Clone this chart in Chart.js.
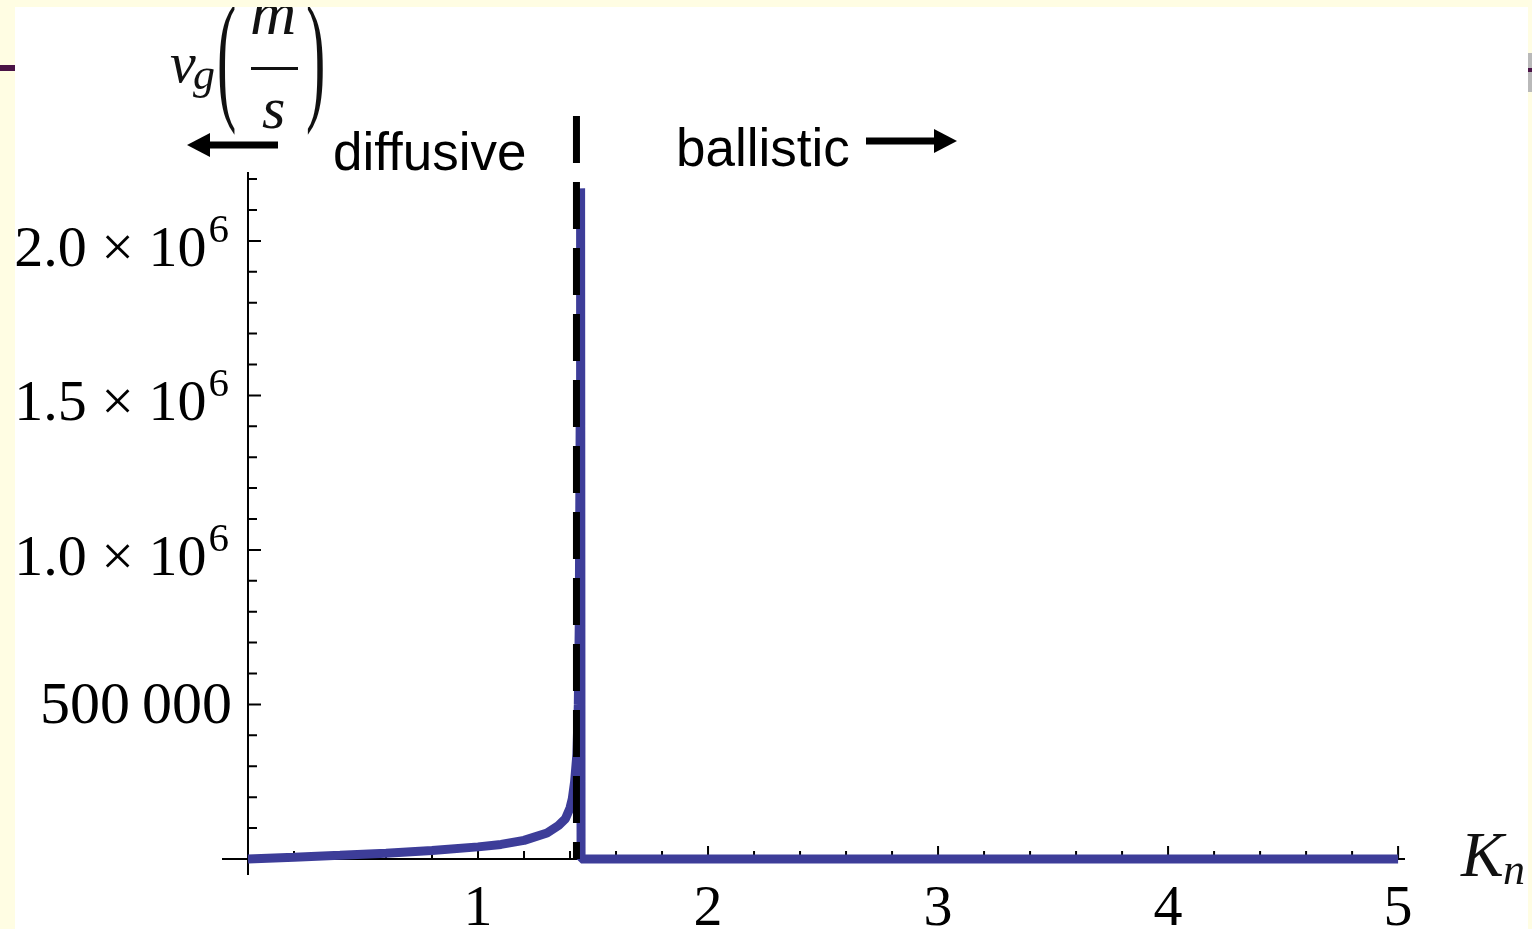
<!DOCTYPE html>
<html>
<head>
<meta charset="utf-8">
<script src="https://cdn.jsdelivr.net/npm/chart.js@4"></script>
<style>
  html, body { margin: 0; padding: 0; background: #fffde3; overflow: hidden; }
  #rule-left { position: absolute; left: 0; top: 65px; width: 15px; height: 6px; background: #4a1446; }
  #tab-right { position: absolute; left: 1528px; top: 53px; width: 4px; height: 39px; background: #b9b9b9; }
  #tab-right div { position: absolute; left: 0; top: 15px; width: 4px; height: 4px; background: #4a1446; }
  #panel { position: absolute; left: 15px; top: 7px; width: 1513px; height: 922px; background: #fff; overflow: hidden; }
  #chart { position: absolute; left: -15px; top: -7px; }
</style>
</head>
<body>
<div id="rule-left"></div>
<div id="tab-right"><div></div></div>
<div id="panel"><canvas id="chart" width="1532" height="929"></canvas></div>
<script>
// group velocity vs Knudsen number
const knValues = [0, 0.2, 0.4, 0.6, 0.8, 1.0, 1.1, 1.2, 1.3, 1.35, 1.38, 1.4, 1.41, 1.42, 1.43, 1.436, 1.44, 1.444, 1.446, 1.448, 5];
const vgValues = [0, 5700, 11600, 18500, 27000, 39000, 47000, 60000, 84000, 108000, 130000, 165000, 195000, 250000, 340000, 500000, 750000, 1400000, 2170000, 0, 0];

// diffusive / ballistic boundary
const knCritical = 1.428;

const xTickValues = [1, 2, 3, 4, 5];
const xTickLabels = ['1', '2', '3', '4', '5'];
const yTickValues = [500000, 1000000, 1500000, 2000000];
const yTickLabels = ['500\u2009000', '1.0 \u00d7 10^6', '1.5 \u00d7 10^6', '2.0 \u00d7 10^6'];
const xMinorStep = 0.2;
const yMinorStep = 100000;

const SERIF = '"Liberation Serif", "Times New Roman", serif';
const SANS = '"Liberation Sans", Arial, sans-serif';

function drawArrow(ctx, x1, x2, y, head) {
  const dir = Math.sign(x2 - x1);
  ctx.fillStyle = '#000';
  ctx.fillRect(Math.min(x1, x2 - dir * head), y - 3.5, Math.abs(x2 - dir * head - x1), 7);
  ctx.beginPath();
  ctx.moveTo(x2, y);
  ctx.lineTo(x2 - dir * head, y - 12);
  ctx.lineTo(x2 - dir * head, y + 12);
  ctx.closePath();
  ctx.fill();
}

const mathAxes = {
  id: 'mathAxes',
  beforeDatasetsDraw(chart) {
    const { ctx, chartArea, scales: { x, y } } = chart;
    const x0 = x.getPixelForValue(0);
    const y0 = y.getPixelForValue(0);
    ctx.save();
    ctx.strokeStyle = '#000';
    ctx.lineWidth = 2;
    ctx.beginPath();
    ctx.moveTo(chartArea.left, y0);
    ctx.lineTo(chartArea.right, y0);
    ctx.moveTo(x0, chartArea.top);
    ctx.lineTo(x0, chartArea.bottom);
    ctx.stroke();

    // ticks point inward
    ctx.beginPath();
    for (let i = 1; i * xMinorStep <= x.max + 1e-9; i++) {
      const v = i * xMinorStep;
      const len = Math.abs(v - Math.round(v)) < 1e-6 ? 13 : 8;
      const px = x.getPixelForValue(v);
      ctx.moveTo(px, y0);
      ctx.lineTo(px, y0 - len);
    }
    for (let i = 1; i * yMinorStep <= y.max; i++) {
      const len = i % 5 === 0 ? 13 : 9;
      const py = y.getPixelForValue(i * yMinorStep);
      ctx.moveTo(x0, py);
      ctx.lineTo(x0 + len, py);
    }
    ctx.stroke();

    ctx.fillStyle = '#000';
    ctx.textAlign = 'center';
    ctx.font = '58px ' + SERIF;
    xTickValues.forEach((v, i) => {
      ctx.fillText(xTickLabels[i], x.getPixelForValue(v), y0 + 66);
    });

    ctx.textAlign = 'right';
    yTickValues.forEach((v, i) => {
      const py = y.getPixelForValue(v);
      const [base, exp] = yTickLabels[i].split('^');
      if (exp) {
        ctx.font = '41px ' + SERIF;
        ctx.fillText(exp, 229, py + 1);
        const right = 229 - ctx.measureText(exp).width - 2;
        ctx.font = '58px ' + SERIF;
        ctx.fillText(base, right, py + 25);
      } else {
        ctx.font = '60px ' + SERIF;
        ctx.fillText(base, 232, py + 19);
      }
    });
    ctx.restore();
  },
  afterDatasetsDraw(chart) {
    const { ctx, scales: { x, y } } = chart;
    const xc = x.getPixelForValue(knCritical);
    ctx.save();
    ctx.strokeStyle = '#000';
    ctx.lineWidth = 7;
    ctx.setLineDash([47, 19]);
    ctx.beginPath();
    ctx.moveTo(xc, 182);
    ctx.lineTo(xc, y.getPixelForValue(0));
    ctx.stroke();
    ctx.setLineDash([]);
    ctx.beginPath();
    ctx.moveTo(xc, 116);
    ctx.lineTo(xc, 163);
    ctx.stroke();

    ctx.fillStyle = '#000';
    ctx.textAlign = 'left';
    ctx.font = '53px ' + SANS;
    ctx.fillText('diffusive', 333, 170);
    ctx.fillText('ballistic', 676, 166);
    drawArrow(ctx, 278, 187, 145, 23);
    drawArrow(ctx, 866, 957, 141, 23);

    // axis titles
    ctx.fillStyle = '#111';
    ctx.font = 'italic 58px ' + SERIF;
    ctx.fillText('v', 170, 82);
    ctx.font = 'italic 44px ' + SERIF;
    ctx.fillText('g', 193, 89);
    ctx.font = 'italic 64px ' + SERIF;
    ctx.fillText('m', 250, 34);
    ctx.font = 'italic 60px ' + SERIF;
    ctx.fillText('s', 262, 128);
    ctx.fillRect(251, 67, 47, 3);
    ctx.save();
    ctx.scale(1, 2.5);
    ctx.font = '58px ' + SERIF;
    ctx.fillText('(', 217, 104 / 2.5);
    ctx.fillText(')', 306, 104 / 2.5);
    ctx.restore();

    ctx.font = 'italic 64px ' + SERIF;
    ctx.fillText('K', 1461, 876);
    ctx.font = 'italic 44px ' + SERIF;
    ctx.fillText('n', 1503, 884);
    ctx.restore();
  }
};

new Chart(document.getElementById('chart'), {
  type: 'line',
  data: {
    datasets: [{
      data: knValues.map((k, i) => ({ x: k, y: vgValues[i] })),
      borderColor: '#3d3d99',
      borderWidth: 9,
      borderJoinStyle: 'bevel',
      borderCapStyle: 'butt',
      pointRadius: 0,
      tension: 0,
      fill: false
    }]
  },
  options: {
    responsive: false,
    animation: false,
    devicePixelRatio: 1,
    layout: { padding: { left: 222, right: 127, top: 172, bottom: 54 } },
    plugins: { legend: { display: false }, tooltip: { enabled: false } },
    scales: {
      x: { type: 'linear', display: false, min: -0.113, max: 5.03 },
      y: { type: 'linear', display: false, min: -52000, max: 2223000 }
    }
  },
  plugins: [mathAxes]
});
</script>
</body>
</html>
